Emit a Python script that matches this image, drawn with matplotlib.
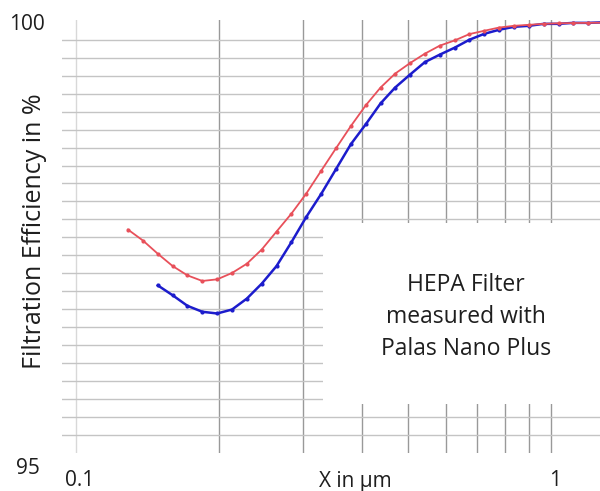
import numpy as np
import matplotlib.pyplot as plt
from matplotlib.patches import Rectangle

plt.rcParams['font.family'] = ['Open Sans', 'DejaVu Sans']

# particle size in um (same channels for both curves)
sizes = [0.1286, 0.1383, 0.1486, 0.1597, 0.1716, 0.1844, 0.1982, 0.2130,
         0.2289, 0.2460, 0.2643, 0.2841, 0.3053, 0.3281, 0.3526, 0.3789,
         0.4072, 0.4376, 0.4697, 0.5048, 0.5425, 0.5830, 0.6265, 0.6733,
         0.7236, 0.7776, 0.8357, 0.8981, 0.9651, 1.0372, 1.1146, 1.1978, 1.287]

red_eff = [97.687, 97.565, 97.418, 97.281, 97.177, 97.115, 97.133, 97.204,
           97.307, 97.465, 97.665, 97.865, 98.088, 98.341, 98.592, 98.839,
           99.069, 99.268, 99.423, 99.540, 99.645, 99.734, 99.792, 99.863,
           99.900, 99.936, 99.955, 99.966, 99.977, 99.983, 99.986, 99.988, 99.990]

# blue curve starts at the third channel
blue_sizes = sizes[2:]
blue_eff = [97.066, 96.956, 96.838, 96.772, 96.753, 96.797, 96.919, 97.085,
            97.281, 97.547, 97.828, 98.083, 98.360, 98.637, 98.858, 99.091,
            99.268, 99.412, 99.551, 99.634, 99.711, 99.800, 99.866, 99.911,
            99.944, 99.955, 99.977, 99.977, 99.988, 99.988, 99.994]

xgrid = [0.1, 0.2, 0.3, 0.4, 0.5, 0.6, 0.7, 0.8, 0.9, 1.0]
ygrid = [95.4, 95.6, 95.8, 96.0, 96.2, 96.4, 96.6, 96.8, 97.0, 97.2, 97.4, 97.6,
         97.8, 98.0, 98.2, 98.4, 98.6, 98.8, 99.0, 99.2, 99.4, 99.6, 99.8]

fig = plt.figure(figsize=(6.0, 4.91), dpi=100)
ax = fig.add_axes([0.1033, 0.0774, 0.8967, 0.8819])
ax.set_xscale('log')
ax.set_xlim(0.0934, 1.268)
ax.set_ylim(95.2, 100.02)

ax.set_xticks(xgrid)
ax.set_xticks([], minor=True)
ax.set_yticks(ygrid)
ax.tick_params(which='both', length=0, labelleft=False, labelbottom=False)
ax.set_axisbelow(True)
ax.grid(axis='y', color='#c4c4c4', linewidth=1.0)
ax.grid(axis='x', color='#999999', linewidth=1.0)
ax.get_xgridlines()[0].set_color('#d8d8d8')
for s in ax.spines.values():
    s.set_visible(False)

# white text box that hides part of the grid
ax.add_patch(Rectangle((0.331, 95.745), 2.0, 2.016, facecolor='white',
                       edgecolor='none', zorder=1))

ax.plot(sizes, red_eff, color='#e8505a', linewidth=1.3, marker='o',
        markersize=2.0, zorder=3, clip_on=True)
ax.plot(blue_sizes, blue_eff, color='#1c1ccc', linewidth=1.8, marker='o',
        markersize=2.0, zorder=2, clip_on=True)

tc = '#1e1e1e'
fig.text(27 / 600, 1 - 25 / 491, '100', fontsize=15, ha='center', va='center', color=tc)
fig.text(28 / 600, 1 - 468 / 491, '95', fontsize=15, ha='center', va='center', color=tc)
fig.text(80 / 600, 1 - 481 / 491, '0.1', fontsize=15, ha='center', va='center', color=tc)
fig.text(555 / 600, 1 - 481 / 491, '1', fontsize=15, ha='center', va='center', color=tc)
fig.text(355 / 600, 1 - 481 / 491, 'X in µm', fontsize=15, ha='center', va='center', color=tc)
fig.text(35 / 600, 1 - 231 / 491, 'Filtration Efficiency in %', fontsize=18, rotation=90,
         ha='center', va='center', color=tc)

fig.text(466 / 600, 1 - 285 / 491, 'HEPA Filter', fontsize=16.5, ha='center', va='center', color=tc)
fig.text(466 / 600, 1 - 317 / 491, 'measured with', fontsize=16.5, ha='center', va='center', color=tc)
fig.text(466 / 600, 1 - 349 / 491, 'Palas Nano Plus', fontsize=16.5, ha='center', va='center', color=tc)

fig.savefig('out.png', dpi=100)
